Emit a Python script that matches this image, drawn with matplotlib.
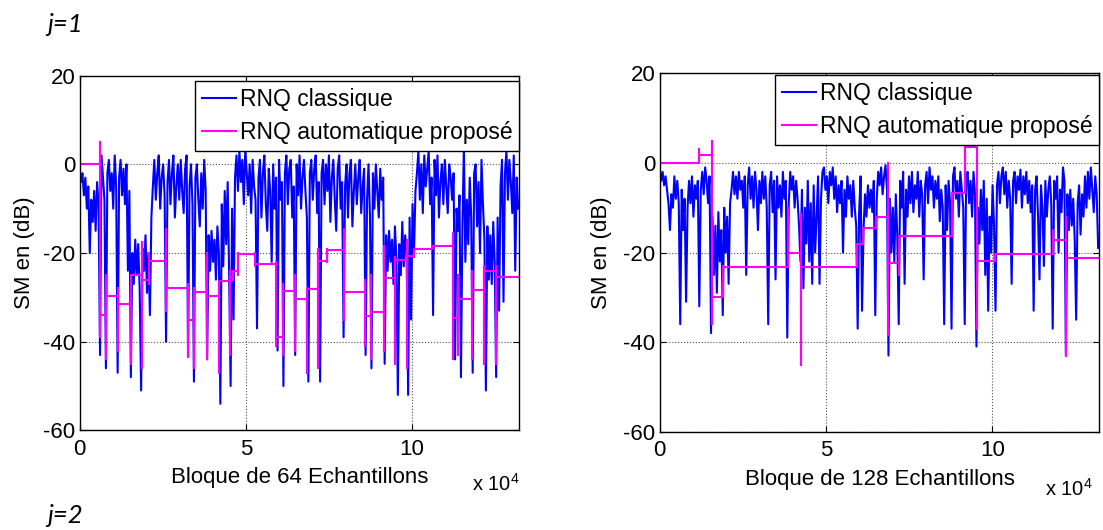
import matplotlib
matplotlib.use('Agg')
import matplotlib.pyplot as plt
import numpy as np

plt.rcParams['font.family'] = ['Liberation Sans', 'DejaVu Sans']
plt.rcParams['mathtext.default'] = 'regular'
plt.rcParams['axes.unicode_minus'] = False

# ---------------- data ----------------
XMAX = 132200          # x-axis limit (blocks)
STEP = 441             # spacing of the read-off samples (blocks)

x_ticks = [0, 50000, 100000]
x_tick_labels = ['0', '5', '10']
y_ticks = [-60, -40, -20, 0, 20]

legend_labels = ['RNQ classique', 'RNQ automatique propos\u00e9']
xlabel_left = 'Bloque de 64 Echantillons'
xlabel_right = 'Bloque de 128 Echantillons'
ylabel = 'SM en (dB)'

# j=1, 64-sample blocks : classic RNQ (dB)
blue_left = [
    -1, -4, -2, -7, -3, -10, -5, -20, -8, -13,
    -6, -15, -4, -9, -43, 2, -3, -8, -46, -2,
    1, -6, -2, -10, 2, -5, -47, -3, 1, -7,
    -1, -9, 0, -24, -6, -48, -20, -27, -17, -25,
    -18, -28, -51, -19, -24, -16, -29, -20, -34, -12,
    -5, 1, -8, -2, 2, -10, -3, 0, -7, -40,
    -4, 1, -9, -2, 2, -12, -5, 0, -8, 1,
    -6, -11, -1, 2, -43, -5, 0, -9, -49, -3,
    0, -8, -14, -2, -10, 1, -6, -44, -16, -24,
    -15, -22, -17, -26, -14, -20, -54, -9, -23, -6,
    -18, -4, -25, -50, -10, -35, -3, 2, -6, 3,
    -4, 1, -9, 3.5, -2, -7, 0, -11, 1, -5,
    -8, -37, -3, 1, -12, -2, 2, -9, -15, -1,
    -6, -22, 0, -10, -3, -42, 1, -8, -4, -50,
    -2, 2, -9, -1, 1, -12, -5, -43, 0, -7,
    2, -10, -3, 1, -6, -12, -49, -2, 1, -8,
    -1, 2, -11, -4, -49, -2, 1, -9, 0, -6,
    2, -13, -3, 1, -8, -15, -1, 2, -10, -4,
    -39, -5, 0, -12, -2, 1, -14, -6, 0, -9,
    -3, 1, -11, -5, -1, -43, -8, 0, -12, -46,
    -2, -10, 0, -6, -12, -1, -8, -3, -45, -16,
    -24, -15, -22, -17, -27, -14, -21, -52, -18, -25,
    -13, -23, -16, -20, -52, -12, -35, -9, -20, -6,
    -2, 3, -8, 0, -11, 2, -5, -1, 3, -9,
    -3, -34, 1, -7, 2, -12, -4, 0, -9, 1,
    -5, -11, 0, -3, -8, -2, -44, -10, -15, -7,
    -48, -14, 4, -22, -8, -18, -3, -12, -47, -2,
    0, -14, -4, -20, 1, -9, -17, -51, -14, -26,
    -16, -27, -13, -22, -48, -12, -33, -5, 1, -31,
    -2, 3, -8, 1, -4, -11, 2, -24, -3, -10,
]

# j=1 : proposed automatic RNQ, piecewise-constant (edges in 1e4 blocks)
mag_left_edges = [0, 0.613, 0.806, 1.161, 1.559, 1.882, 2.097, 2.602, 3.258, 3.441,
                  3.839, 4.194, 4.538, 4.624, 4.763, 5.290, 5.914, 6.108, 6.484, 6.849,
                  7.183, 7.452, 7.957, 8.570, 8.763, 9.140, 9.495, 9.839, 10.054, 10.591,
                  11.237, 11.376, 11.796, 12.151, 12.527, 13.22]
mag_left_levels = [0, -34.0, -29.8, -31.5, -24.9, -26.2, -21.7, -28.0, -35.1, -28.7,
                   -29.6, -26.4, -25.4, -24.0, -20.3, -22.5, -39.0, -28.5, -30.3, -28.1,
                   -21.9, -19.4, -28.7, -34.2, -33.4, -25.6, -21.5, -20.7, -19.0, -18.5,
                   -34.7, -30.4, -28.3, -24.1, -25.4]
mag_left_tops = [5, -25, -28, -27, -17.5, -20, -14.5, -27, -28, -20,
                 -27, -24, -24, -20, -20, -22, -27, -25, -28, -19,
                 -19, -14.5, -26, -25, -18.5, -21, -17, -19, -18.5, -15.5,
                 -25, -24, -23, -23]
mag_left_bots = [-39, -44, -42, -45, -46, -27, -33, -43.5, -46, -44,
                 -47, -43, -26, -25, -23, -41, -43, -42, -47, -46,
                 -22, -35, -41, -44, -42, -45, -46, -21, -19, -44,
                 -43, -44, -45, -45]

# j=1, 128-sample blocks : classic RNQ (dB)
blue_right = [
    -1, -4, -2, -5, -3, -6, -9, -15, -7, -10,
    -3, -8, -4, -9, -36, -6, -15, -8, -31, -10,
    -4, -9, -3, -12, -5, -8, -4, -32, -6, -2,
    -7, -1, -4, -9, -3, -38, -12, -25, -14, -29,
    -11, -22, -15, -34, -10, -20, -12, -27, -9, -6,
    -2, -7, -3, -8, -2, -6, -4, -10, -3, -25,
    -5, -1, -8, -3, -10, -2, -6, -15, -4, -9,
    -2, -8, -3, -10, -36, -5, -2, -11, -4, -26,
    -3, -10, -5, -12, -2, -8, -4, -39, -9, -2,
    -6, -3, -10, -4, -8, -14, -22, -6, -28, -10,
    -18, -4, -22, -9, -27, -5, -20, -12, -3, -27,
    -8, -2, -1, -6, -3, -9, -2, -5, -1, -8,
    -3, -11, -5, -9, -4, -20, -6, -12, -3, -8,
    -5, -12, -4, -10, -14, -37, -11, -3, -33, -15,
    -7, -12, -5, -10, -6, -11, -4, -34, -8, -2,
    -5, -1, -7, -3, -0.5, -6, -43, -8, -20, -10,
    -22, -7, -16, -36, -4, -10, -2, -27, -6, -12,
    -3, -9, -2, -11, -5, -8, -2, -12, -4, -7,
    -26, -5, -2, -9, -1, -6, -3, -10, -4, -8,
    -3, -13, -6, -10, -36, -5, -15, -4, -9, -37,
    -3, -1, -8, -4, -12, -2, -6, -10, -36, -3,
    -2, -9, -4, -12, -2, -7, -41, -10, -18, -6,
    -15, -4, -25, -8, -33, -12, -20, -5, -14, -33,
    -5, -2, -9, -3, -1, -7, -2, -10, -4, -8,
    -27, -4, -2, -9, -3, -6, -1.5, -10, -3, -7,
    -2, -9, -4, -11, -5, -33, -6, -3, -12, -26,
    -5, -10, -23, -4, -12, -6, -3, -9, -37, -4,
    -8, -3, -20, -6, -11, -1, -4, -43, -7, -15,
    -6, -14, -8, -17, -35, -9, -5, -16, -7, -12,
    -3, -10, -2, -8, -1, -6, -11, -3, -7, -19,
]

mag_right_edges = [0, 1.19, 1.56, 1.89, 3.85, 4.25, 5.94, 6.12, 6.51, 6.88,
                   7.21, 8.79, 9.17, 9.55, 10.07, 11.84, 12.21, 13.22]
mag_right_levels = [0, 1.7, -30, -23.3, -20, -23.3, -18, -14.5, -12, -22.3,
                    -16.4, -6.8, 3.6, -21.8, -20.3, -17.2, -21.2]
mag_right_tops = [3.2, 5, -23, -10, -11.5, -18, -14.5, -12, 0, -16.4,
                  -6.8, 5, 5, -20.3, -15, -12]
mag_right_bots = [0, -36, -30, -23.3, -45, -23.3, -18, -14.5, -38.5, -25,
                  -16.4, -6.8, -37, -21.8, -20.3, -43]

BLUE = '#0000FF'
MAGENTA = '#FF00FF'
FS = 16
LFS = 16.5


def step_path(edges, levels, tops, bots):
    xs = [edges[0]]
    ys = [levels[0]]
    for k in range(1, len(edges) - 1):
        xb = edges[k]
        xs += [xb, xb, xb, xb]
        ys += [levels[k - 1], tops[k - 1], bots[k - 1], levels[k]]
    xs.append(edges[-1])
    ys.append(levels[-1])
    return np.array(xs) * 1e4, np.array(ys)


fig = plt.figure(figsize=(11.03, 5.30), dpi=100)
W, H = 1103.0, 530.0
axL = fig.add_axes([79.5 / W, 1 - 430.4 / H, (519.3 - 79.5) / W, (430.4 - 75.6) / H])
axR = fig.add_axes([659.7 / W, 1 - 431.7 / H, (1099.3 - 659.7) / W, (431.7 - 73.3) / H])

panels = [
    (axL, blue_left, (mag_left_edges, mag_left_levels, mag_left_tops, mag_left_bots),
     xlabel_left, -0.103, (1.0016, -0.152), 0.9856, -0.102),
    (axR, blue_right, (mag_right_edges, mag_right_levels, mag_right_tops, mag_right_bots),
     xlabel_right, -0.104, (0.986, -0.160), 0.9953, -0.109),
]

for ax, blue, mag, xl, xly, x10pos, legtop, ylx in panels:
    xb = np.arange(len(blue)) * STEP
    l1, = ax.plot(xb, blue, color=BLUE, lw=1.5, zorder=3)
    mx, my = step_path(*mag)
    l2, = ax.plot(mx, my, color=MAGENTA, lw=1.5, zorder=4)
    ax.set_xlim(0, XMAX)
    ax.set_ylim(-60, 20)
    ax.set_xticks(x_ticks)
    ax.set_xticklabels(x_tick_labels)
    ax.set_yticks(y_ticks)
    ax.grid(True, linestyle=':', color='#505050', linewidth=0.8, zorder=1)
    ax.tick_params(direction='in', top=True, right=True, length=4, width=0.8,
                   labelsize=FS, colors='black')
    ax.tick_params(axis='x', pad=6)
    ax.tick_params(axis='y', pad=3)
    for s in ax.spines.values():
        s.set_linewidth(1.0)
        s.set_zorder(5)
    ax.set_xlabel(xl, fontsize=FS)
    ax.xaxis.set_label_coords(0.5, xly)
    ax.set_ylabel(ylabel, fontsize=FS)
    ax.yaxis.set_label_coords(ylx, 0.5)
    ax.text(x10pos[0], x10pos[1], 'x 10$^{4}$', transform=ax.transAxes,
            ha='right', va='center', fontsize=14.5)
    leg = ax.legend([l1, l2], legend_labels, loc='upper right',
                    bbox_to_anchor=(1.0, legtop), borderaxespad=0, fancybox=False,
                    edgecolor='black', framealpha=1, fontsize=LFS, handlelength=1.48,
                    handletextpad=0.17, borderpad=0.31, labelspacing=0.43)
    leg.get_frame().set_linewidth(1.0)
    leg.set_zorder(10)

fig.text(47 / W, 1 - 31.5 / H, 'j=1', fontsize=18.5, fontstyle='italic',
         family=['Lato', 'DejaVu Sans'], ha='left', va='baseline')
fig.text(47 / W, 1 - 523 / H, 'j=2', fontsize=18.5, fontstyle='italic',
         family=['Lato', 'DejaVu Sans'], ha='left', va='baseline')

fig.savefig('out.png', dpi=100)
